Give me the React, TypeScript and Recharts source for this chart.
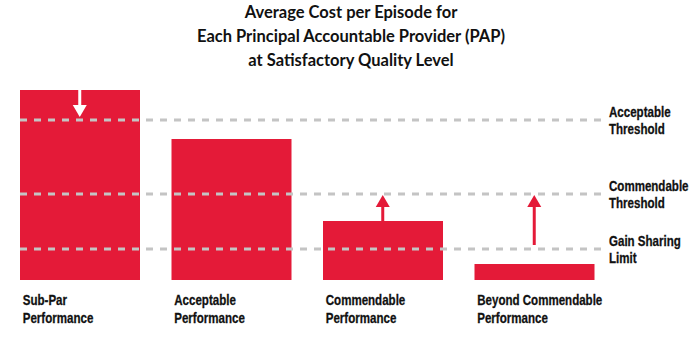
import { Bar, BarChart, ReferenceLine, XAxis, YAxis } from "recharts";

const categories = ["Sub-Par\nPerformance", "Acceptable\nPerformance", "Commendable\nPerformance", "Beyond Commendable\nPerformance"];
const costs = [190, 141, 59, 16];

const thresholdNames = ["Acceptable\nThreshold", "Commendable\nThreshold", "Gain Sharing\nLimit"];
const thresholdValues = [160, 86, 31];

// arrows: [category index, from, to, colour]
const arrowCats = [0, 2, 3];
const arrowFrom = [190, 59, 35];
const arrowTo = [163, 85, 85];
const arrowColors = ["#ffffff", "#e41a38", "#e41a38"];

const RED = "#e41a38";
const BAR_SIZE = 120;
const LABEL_FONT = '"Liberation Sans", Arial, sans-serif';

const data = categories.map((name, i) => ({ name, cost: costs[i] }));

// condensed bold label, squeezed horizontally like a narrow grotesque
function NarrowText({ x, y, children }: any) {
  return (
    <text
      transform={`translate(${x},${y}) scale(0.77,1)`}
      dominantBaseline="central"
      fontFamily={LABEL_FONT}
      fontWeight="bold"
      fontSize={15}
      fill="#111"
      stroke="#111"
      strokeWidth={0.3}
    >
      {children}
    </text>
  );
}

function ThresholdShape(props: any) {
  const { x1, x2, y1, label } = props;
  const lines = String(label).split("\n");
  return (
    <g>
      <line x1={x1 + 16} x2={x2 - 9} y1={y1} y2={y1} stroke="#c4c4c4" strokeWidth={3} strokeDasharray="7 7" />
      {lines.map((l, i) => (
        <NarrowText key={l} x={x2 - 1} y={y1 - 8 + i * 17}>
          {l}
        </NarrowText>
      ))}
    </g>
  );
}

function ArrowShape(props: any) {
  const { x1, y1, y2, color } = props;
  const dir = y2 < y1 ? 1 : -1; // 1 = pointing up
  const headBase = y2 + dir * 12;
  return (
    <g>
      <line x1={x1} x2={x1} y1={y1} y2={headBase} stroke={color} strokeWidth={3} />
      <polygon points={`${x1 - 7},${headBase} ${x1 + 7},${headBase} ${x1},${y2}`} fill={color} />
    </g>
  );
}

function CategoryTick({ x, y, payload }: any) {
  const lines = String(payload.value).split("\n");
  return (
    <g>
      {lines.map((l, i) => (
        <NarrowText key={l} x={x - BAR_SIZE / 2 + 3} y={y + 12 + i * 18}>
          {l}
        </NarrowText>
      ))}
    </g>
  );
}

export default function App() {
  return (
    <div style={{ position: "absolute", left: 0, top: 0, width: 692, height: 343, background: "#fff", overflow: "hidden" }}>
      <div
        style={{
          position: "absolute",
          left: 0,
          top: 0,
          width: 702,
          textAlign: "center",
          fontFamily: "Lato, sans-serif",
          fontWeight: 700,
          fontSize: 16.5,
          lineHeight: "24px",
          color: "#111",
        }}
      >
        Average Cost per Episode for
        <br />
        Each Principal Accountable Provider (PAP)
        <br />
        at Satisfactory Quality Level
      </div>
      <BarChart width={692} height={343} data={data} margin={{ top: 90, right: 82, bottom: 0, left: 4 }}>
        <XAxis dataKey="name" axisLine={false} tickLine={false} height={63} tick={<CategoryTick />} interval={0} />
        <YAxis hide domain={[0, 190]} />
        <Bar dataKey="cost" fill={RED} barSize={BAR_SIZE} isAnimationActive={false} />
        {thresholdValues.map((v, i) => (
          <ReferenceLine key={v} y={v} ifOverflow="visible" shape={(p: any) => <ThresholdShape {...p} label={thresholdNames[i]} />} />
        ))}
        {arrowCats.map((c, i) => (
          <ReferenceLine
            key={c}
            ifOverflow="visible"
            segment={[
              { x: categories[c], y: arrowFrom[i] },
              { x: categories[c], y: arrowTo[i] },
            ]}
            shape={(p: any) => <ArrowShape {...p} color={arrowColors[i]} />}
          />
        ))}
      </BarChart>
    </div>
  );
}
